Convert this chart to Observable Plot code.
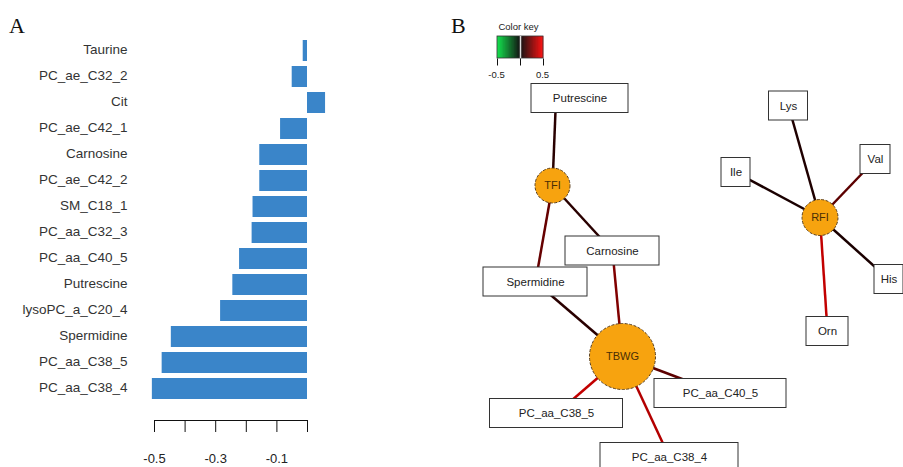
<!DOCTYPE html>
<html>
<head>
<meta charset="utf-8">
<script src="https://cdn.jsdelivr.net/npm/d3@7"></script>
<script src="https://cdn.jsdelivr.net/npm/@observablehq/plot@0.6"></script>
<style>
  html, body { margin: 0; padding: 0; background: #fff; }
  #wrap { position: relative; width: 903px; height: 467px; overflow: hidden; background: #fff; }
  .panel { position: absolute; top: 0; }
  .tag { position: absolute; z-index: 5; font-family: "Liberation Serif", "DejaVu Serif", serif; font-size: 22px; color: #111; }
</style>
</head>
<body>
<div id="wrap">
  <div id="panelA" class="panel" style="left:0px;"></div>
  <div id="panelB" class="panel" style="left:440px;"></div>
  <div class="tag" style="left:9px; top:13px;">A</div>
  <div class="tag" style="left:451px; top:13px;">B</div>
</div>
<script>
// ---------- Panel A data ----------
const metabolites = ["Taurine","PC_ae_C32_2","Cit","PC_ae_C42_1","Carnosine","PC_ae_C42_2","SM_C18_1",
  "PC_aa_C32_3","PC_aa_C40_5","Putrescine","lysoPC_a_C20_4","Spermidine","PC_aa_C38_5","PC_aa_C38_4"];
const coefficients = [-0.014,-0.050,0.059,-0.088,-0.156,-0.156,-0.178,-0.181,-0.222,-0.244,-0.284,-0.445,-0.475,-0.507];
const tickValues = [-0.5,-0.4,-0.3,-0.2,-0.1,0];
const tickLabels = [-0.5,-0.3,-0.1];

// ---------- Panel B data (network layout, in picture units) ----------
const boxNames = ["Putrescine","Carnosine","Spermidine","PC_aa_C38_5","PC_aa_C40_5","PC_aa_C38_4","Lys","Val","Ile","His","Orn"];
const boxX = [579.5,612,535,556,720,669,788,875,735.5,888.5,827];
const boxY = [98,250.5,281.5,413,393,457,105.5,159,172,279,331];
const boxW = [97,94,104,133,132,138,39,30,29,29,42];
const traitNames = ["TFI","TBWG","RFI"];
const traitX = [552,622,819.5];
const traitY = [185,356,217];
const traitR = [17.5,33,18];
const edgeFrom = ["Putrescine","Carnosine","Spermidine","Spermidine","Carnosine","PC_aa_C38_5","PC_aa_C38_4","PC_aa_C40_5","Lys","Val","Ile","His","Orn"];
const edgeTo   = ["TFI","TFI","TFI","TBWG","TBWG","TBWG","TBWG","TBWG","RFI","RFI","RFI","RFI","RFI"];
const edgeCorr = [0.08,0.08,0.2,0.08,0.25,0.38,0.35,0.18,0.06,0.18,0.05,0.05,0.38];
// where an edge leaves its metabolite box (offset from box centre)
const edgePortDx = [-24,0,0,0,0,0,0,0,0,0,0,0,0];
const keyTicks = [-0.5,0,0.5];
const keyLabels = ["-0.5","0.5"];

// ---------- Panel A ----------
const barData = metabolites.map((name, i) => ({name, value: coefficients[i]}));
const plotA = Plot.plot({
  width: 440, height: 467,
  marginLeft: 154, marginRight: 133, marginTop: 0, marginBottom: 47,
  style: {fontFamily: "'Liberation Sans', Arial, sans-serif", background: "transparent", color: "#111"},
  x: {domain: [-0.5, 0]},
  y: {domain: metabolites, range: [32.7, 406.4], padding: 0.2},
  marks: [
    Plot.barX(barData, {x: "value", y: "name", fill: "#3a85c9"}),
    Plot.axisY({tickSize: 0, tickPadding: 27, fontSize: 13.5, fill: "#333", label: null, dy: -1}),
    Plot.ruleY([{}], {y: null, x1: tickValues[0], x2: tickValues[tickValues.length - 1], dy: 210, stroke: "#111", strokeWidth: 1}),
    Plot.axisX({ticks: tickValues, tickSize: 12, tickFormat: () => "", label: null, stroke: "#111"}),
    Plot.axisX({ticks: tickLabels, tickSize: 0, tickPadding: 33, fontSize: 13, fill: "#222", tickFormat: d => d.toFixed(1), label: null})
  ]
});
document.getElementById("panelA").appendChild(plotA);

// ---------- Panel B ----------
const pos = new Map();
boxNames.forEach((n, i) => pos.set(n, [boxX[i], boxY[i]]));
traitNames.forEach((n, i) => pos.set(n, [traitX[i], traitY[i]]));
const edges = edgeFrom.map((f, i) => ({x1: pos.get(f)[0] + edgePortDx[i], y1: pos.get(f)[1], x2: pos.get(edgeTo[i])[0], y2: pos.get(edgeTo[i])[1], r: edgeCorr[i]}));
const boxes = boxNames.map((n, i) => ({name: n, x: boxX[i], y: boxY[i], w: boxW[i]}));
const traits = traitNames.map((n, i) => ({name: n, x: traitX[i], y: traitY[i], r: traitR[i]}));

const keyX = d3.scaleLinear([-0.5, 0.5], [497, 543]);
const keyCells = d3.range(-0.5, 0.5, 0.01).map(v => ({v, x1: keyX(v), x2: keyX(v + 0.01) + 0.3}));
const keyTickData = keyTicks.map(v => ({x: keyX(v)}));

const plotB = Plot.plot({
  width: 463, height: 467,
  marginLeft: 0, marginRight: 0, marginTop: 0, marginBottom: 0,
  style: {fontFamily: "'Liberation Sans', Arial, sans-serif", background: "transparent"},
  x: {domain: [440, 903], range: [0, 463], axis: null},
  y: {domain: [0, 467], range: [0, 467], axis: null},
  r: {type: "identity"},
  color: {type: "linear", domain: [-0.5, 0, 0.5], range: ["#00e040", "#000000", "#ff0000"], interpolate: "rgb"},
  marks: [
    // color key
    Plot.text(["Color key"], {x: 518, y: 26, fontSize: 9.5, fill: "#222"}),
    Plot.rect(keyCells, {x1: "x1", x2: "x2", y1: 36, y2: 58, fill: "v"}),
    Plot.rect([{}], {x1: 497, x2: 543, y1: 36, y2: 58, fill: "none", stroke: "#333", strokeWidth: 0.8}),
    Plot.ruleX([keyX(0)], {y1: 36, y2: 58, stroke: "#ddd", strokeWidth: 1.5}),
    Plot.link(keyTickData, {x1: "x", x2: "x", y1: 58, y2: 65, stroke: "#111", strokeWidth: 1}),
    Plot.text(keyLabels, {x: [keyX(-0.5) - 1, keyX(0.5) - 1], y: 74, fontSize: 9.5, fill: "#222"}),
    // edges
    Plot.link(edges, {x1: "x1", y1: "y1", x2: "x2", y2: "y2", stroke: "r", strokeWidth: 2.5}),
    // metabolite boxes
    Plot.rect(boxes, {x1: d => d.x - d.w / 2, x2: d => d.x + d.w / 2, y1: d => d.y - 14.5, y2: d => d.y + 14.5, fill: "#fff", stroke: "#333", strokeWidth: 1}),
    Plot.text(boxes, {x: "x", y: "y", text: "name", fontSize: 11.5, fill: "#222"}),
    // trait circles
    Plot.dot(traits, {x: "x", y: "y", r: "r", fill: "#f7a30f", stroke: "#5a4020", strokeWidth: 1, strokeDasharray: "3,1.5"}),
    Plot.text(traits, {x: "x", y: "y", text: "name", fontSize: 11, fill: "#4a2e05"})
  ]
});
document.getElementById("panelB").appendChild(plotB);
</script>
</body>
</html>
